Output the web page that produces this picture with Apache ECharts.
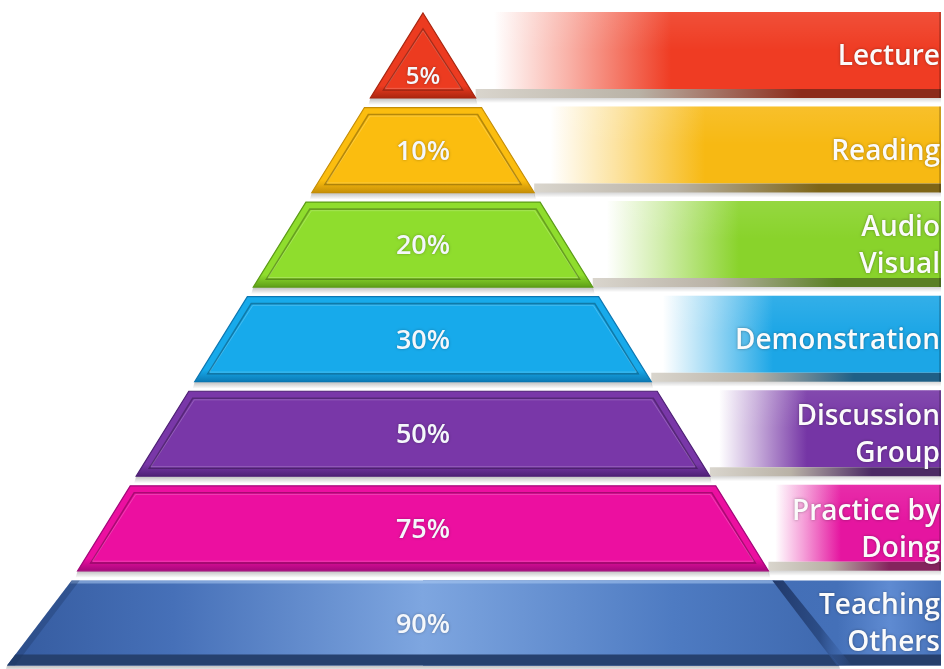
<!DOCTYPE html>
<html>
<head>
<meta charset="utf-8">
<script src="https://cdn.jsdelivr.net/npm/echarts@6/dist/echarts.min.js"></script>
<style>
  html, body { margin: 0; padding: 0; background: #ffffff; }
  #chart { width: 944px; height: 669px; }
</style>
</head>
<body>
<div id="chart"></div>
<script>
// Learning pyramid: average retention rate per learning method
const levels = ['Lecture', 'Reading', 'Audio\nVisual', 'Demonstration', 'Discussion\nGroup', 'Practice by\nDoing', 'Teaching\nOthers'];
const retention = [5, 10, 20, 30, 50, 75, 90];

// Colour set for each tier: body, dark rim, banner, banner shelf
const palette = [
  { main: '#ec3b20', dark: '#a9250f', banner: '#ef3c23', shelf: '#8c2b1b' },
  { main: '#fbbd0f', dark: '#c48d06', banner: '#f7b913', shelf: '#7e6517' },
  { main: '#8fdd2d', dark: '#5c9c17', banner: '#89d32b', shelf: '#5a8024' },
  { main: '#17aaeb', dark: '#0b77b2', banner: '#1ca6e6', shelf: '#1f5f86' },
  { main: '#7937a8', dark: '#4d1f74', banner: '#7535a5', shelf: '#4c2a64' },
  { main: '#ec0fa0', dark: '#a3087a', banner: '#e515a0', shelf: '#84245d' },
  { main: '#4974be', dark: '#27457b', banner: '#4a76bf', shelf: '#243e6b' }
];

const FONT = '"Open Sans", "Noto Sans", sans-serif';

function hGrad(stops) {
  return { type: 'linear', x: 0, y: 0, x2: 1, y2: 0, colorStops: stops };
}
function vGrad(stops) {
  return { type: 'linear', x: 0, y: 0, x2: 0, y2: 1, colorStops: stops };
}
function clamp01(v) { return Math.max(0, Math.min(1, v)); }

function renderTier(params, api) {
  const i = params.dataIndex;
  const n = levels.length;
  const cs = params.coordSys;
  const pal = palette[i];
  const band = api.size([0, 1])[1];

  const c = api.coord([0, api.value(1)]);
  const cx = c[0], yc = c[1];
  const top = yc - band * 0.437;
  const bottom = yc + band * 0.462;

  // pyramid sides: straight line from the apex (top of first tier) to the base (bottom of last tier)
  const apexY = api.coord([0, 0])[1] - band * 0.437;
  const baseY = api.coord([0, n - 1])[1] + band * 0.462;
  const baseHalf = api.coord([0.955, 0])[0] - cx;
  const isLast = i === n - 1;
  // the foundation slab flares out slightly towards its base
  const flare = y => isLast ? 12 * (y - top) / (bottom - top) : 0;
  const hw = y => baseHalf * (y - apexY) / (baseY - apexY) + flare(y);

  const hwT = hw(top), hwB = hw(bottom);
  const xR = cs.x + cs.width - 3;
  const edgeB = cx + hwB;
  const children = [];
  const shelfH = 9;

  // ---- banner behind the tier ----
  const bx0 = cx;
  const bw = xR - bx0;
  if (!isLast) {
    const rest = xR - edgeB;
    const w0 = clamp01((edgeB - bx0 + rest * 0.04) / bw);
    const wm = clamp01((edgeB - bx0 + rest * 0.20) / bw);
    const w1 = clamp01((edgeB - bx0 + rest * 0.42) / bw);
    children.push({
      type: 'rect',
      shape: { x: bx0, y: top - 1, width: bw, height: bottom - top - shelfH + 1 },
      style: {
        fill: hGrad([
          { offset: 0, color: '#ffffff' },
          { offset: w0, color: '#ffffff' },
          { offset: wm, color: echarts.color.lerp(0.4, ['#ffffff', pal.banner]) },
          { offset: w1, color: pal.banner },
          { offset: 1, color: pal.banner }
        ])
      }
    });
    // subtle top sheen on the banner
    children.push({
      type: 'rect',
      shape: { x: bx0, y: top - 1, width: bw, height: (bottom - top) * 0.45 },
      style: { fill: vGrad([{ offset: 0, color: 'rgba(255,255,255,0.10)' }, { offset: 1, color: 'rgba(255,255,255,0)' }]) }
    });
    // shelf strip along the banner bottom
    const sw = xR - edgeB;
    children.push({
      type: 'rect',
      shape: { x: edgeB, y: bottom - shelfH, width: sw, height: shelfH },
      style: {
        fill: hGrad([
          { offset: 0, color: '#d9d5cd' },
          { offset: 0.35, color: '#b9b2a6' },
          { offset: 0.7, color: pal.shelf },
          { offset: 1, color: pal.shelf }
        ])
      }
    });
    // right edge line
    children.push({
      type: 'rect',
      shape: { x: xR - 2, y: top - 1, width: 2, height: bottom - top + 1 },
      style: { fill: 'rgba(0,0,0,0.18)' }
    });
    // soft shadow under the shelf
    children.push({
      type: 'rect',
      shape: { x: edgeB, y: bottom, width: sw, height: 5 },
      style: { fill: vGrad([{ offset: 0, color: 'rgba(0,0,0,0.16)' }, { offset: 1, color: 'rgba(0,0,0,0)' }]) }
    });
  } else {
    // base tier: banner is a solid blue face attached to the slab
    children.push({
      type: 'rect',
      shape: { x: bx0, y: top, width: bw, height: bottom - top },
      style: {
        fill: hGrad([
          { offset: 0, color: '#3f68b0' },
          { offset: 0.8, color: '#4470b8' },
          { offset: 0.9, color: '#5f8bd2' },
          { offset: 1, color: '#4571b9' }
        ])
      }
    });
    children.push({
      type: 'rect',
      shape: { x: bx0, y: bottom - 11, width: bw, height: 11 },
      style: { fill: '#263f6b' }
    });
  }

  // ---- soft shadow below the tier body ----
  children.push({
    type: 'polygon',
    shape: { points: [[cx - hwB, bottom], [cx + hwB, bottom], [cx + hwB + 2, bottom + 7], [cx - hwB - 2, bottom + 7]] },
    style: { fill: vGrad([{ offset: 0, color: 'rgba(0,0,0,0.26)' }, { offset: 1, color: 'rgba(0,0,0,0)' }]) }
  });

  // ---- tier body ----
  const outer = i === 0
    ? [[cx, top], [cx + hwB, bottom], [cx - hwB, bottom]]
    : [[cx - hwT, top], [cx + hwT, top], [cx + hwB, bottom], [cx - hwB, bottom]];

  if (!isLast) {
    children.push({
      type: 'polygon',
      shape: { points: outer },
      style: {
        fill: vGrad([
          { offset: 0, color: pal.main },
          { offset: 0.85, color: pal.main },
          { offset: 1, color: pal.dark }
        ]),
        stroke: pal.dark, lineWidth: 1.2
      }
    });
    // inner bevel frame
    const d = 7;
    const k = 1.18;
    const iy0 = i === 0 ? top + d * 2.3 : top + d;
    const iy1 = bottom - d - 1;
    const ihT = Math.max(0, hw(iy0) - d * k);
    const ihB = hw(iy1) - d * k;
    const inner = i === 0
      ? [[cx, iy0], [cx + ihB, iy1], [cx - ihB, iy1]]
      : [[cx - ihT, iy0], [cx + ihT, iy0], [cx + ihB, iy1], [cx - ihB, iy1]];
    children.push({
      type: 'polygon',
      shape: { points: inner },
      style: { fill: pal.main, stroke: 'rgba(0,0,0,0.28)', lineWidth: 1.6 }
    });
    const inner2 = inner.map(p => [p[0] + (p[0] < cx ? 1.6 : (p[0] > cx ? -1.6 : 0)), p[1] + (p[1] < yc - 10 ? 1.6 : -1.6)]);
    children.push({
      type: 'polygon',
      shape: { points: inner2 },
      style: { fill: 'none', stroke: 'rgba(255,255,255,0.20)', lineWidth: 1 }
    });
  } else {
    children.push({
      type: 'polygon',
      shape: { points: outer },
      style: {
        fill: hGrad([
          { offset: 0, color: '#355b9f' },
          { offset: 0.2, color: '#4670b8' },
          { offset: 0.5, color: '#7ea6e0' },
          { offset: 0.8, color: '#4e7bc2' },
          { offset: 1, color: '#3e68ae' }
        ])
      }
    });
    // light top edge
    children.push({
      type: 'polygon',
      shape: { points: [[cx - hwT, top], [cx + hwT, top], [cx + hwT + 1.5, top + 3], [cx - hwT - 1.5, top + 3]] },
      style: { fill: 'rgba(170,200,240,0.55)' }
    });
    // dark base strip
    const y1 = bottom - 11;
    children.push({
      type: 'polygon',
      shape: { points: [[cx - hw(y1), y1], [cx + hw(y1), y1], [cx + hwB, bottom], [cx - hwB, bottom]] },
      style: { fill: '#26416f' }
    });
    // shaded right flank of the slab
    children.push({
      type: 'polygon',
      shape: { points: [[cx + hwT - 2, top], [cx + hwT + 9, top], [cx + hwB + 13, bottom], [cx + hwB - 2, bottom]] },
      style: {
        fill: hGrad([
          { offset: 0, color: '#21396a' },
          { offset: 0.6, color: '#2c4d87' },
          { offset: 1, color: 'rgba(63,104,176,0)' }
        ])
      }
    });
    // shaded left flank
    children.push({
      type: 'polygon',
      shape: { points: [[cx - hwT, top], [cx - hwT + 8, top], [cx - hwB + 8, bottom], [cx - hwB, bottom]] },
      style: { fill: 'rgba(30,55,100,0.35)' }
    });
  }

  // ---- value label on the tier ----
  const labelY = i === 0 ? top + (bottom - top) * 0.75 : (top + bottom) / 2 + 2;
  children.push({
    type: 'text',
    x: cx,
    y: labelY,
    style: {
      text: api.value(2) + '%',
      fill: '#f4f7fb',
      fontFamily: FONT,
      fontWeight: 600,
      fontSize: i === 0 ? 24 : 27,
      align: 'center',
      verticalAlign: 'middle',
      textShadowColor: 'rgba(0,0,0,0.30)',
      textShadowBlur: 3
    }
  });

  // ---- method name on the banner ----
  children.push({
    type: 'text',
    x: xR - 1,
    y: (top + bottom) / 2 + 2,
    style: {
      text: levels[i],
      fill: '#fbfbfb',
      fontFamily: FONT,
      fontWeight: 600,
      fontSize: 28,
      lineHeight: 37,
      align: 'right',
      verticalAlign: 'middle',
      textShadowColor: 'rgba(0,0,0,0.35)',
      textShadowBlur: 3
    }
  });

  return { type: 'group', children: children };
}

const chart = echarts.init(document.getElementById('chart'), null, { renderer: 'canvas' });
chart.setOption({
  backgroundColor: '#ffffff',
  animation: false,
  grid: { left: 0, right: 0, top: 7, bottom: 0 },
  xAxis: { type: 'value', min: -1, max: 1.2317, show: false },
  yAxis: { type: 'category', data: levels, inverse: true, show: false },
  series: [{
    type: 'custom',
    renderItem: renderTier,
    encode: { x: 0, y: 1 },
    data: levels.map((name, i) => [0, i, retention[i]])
  }]
});
</script>
</body>
</html>
